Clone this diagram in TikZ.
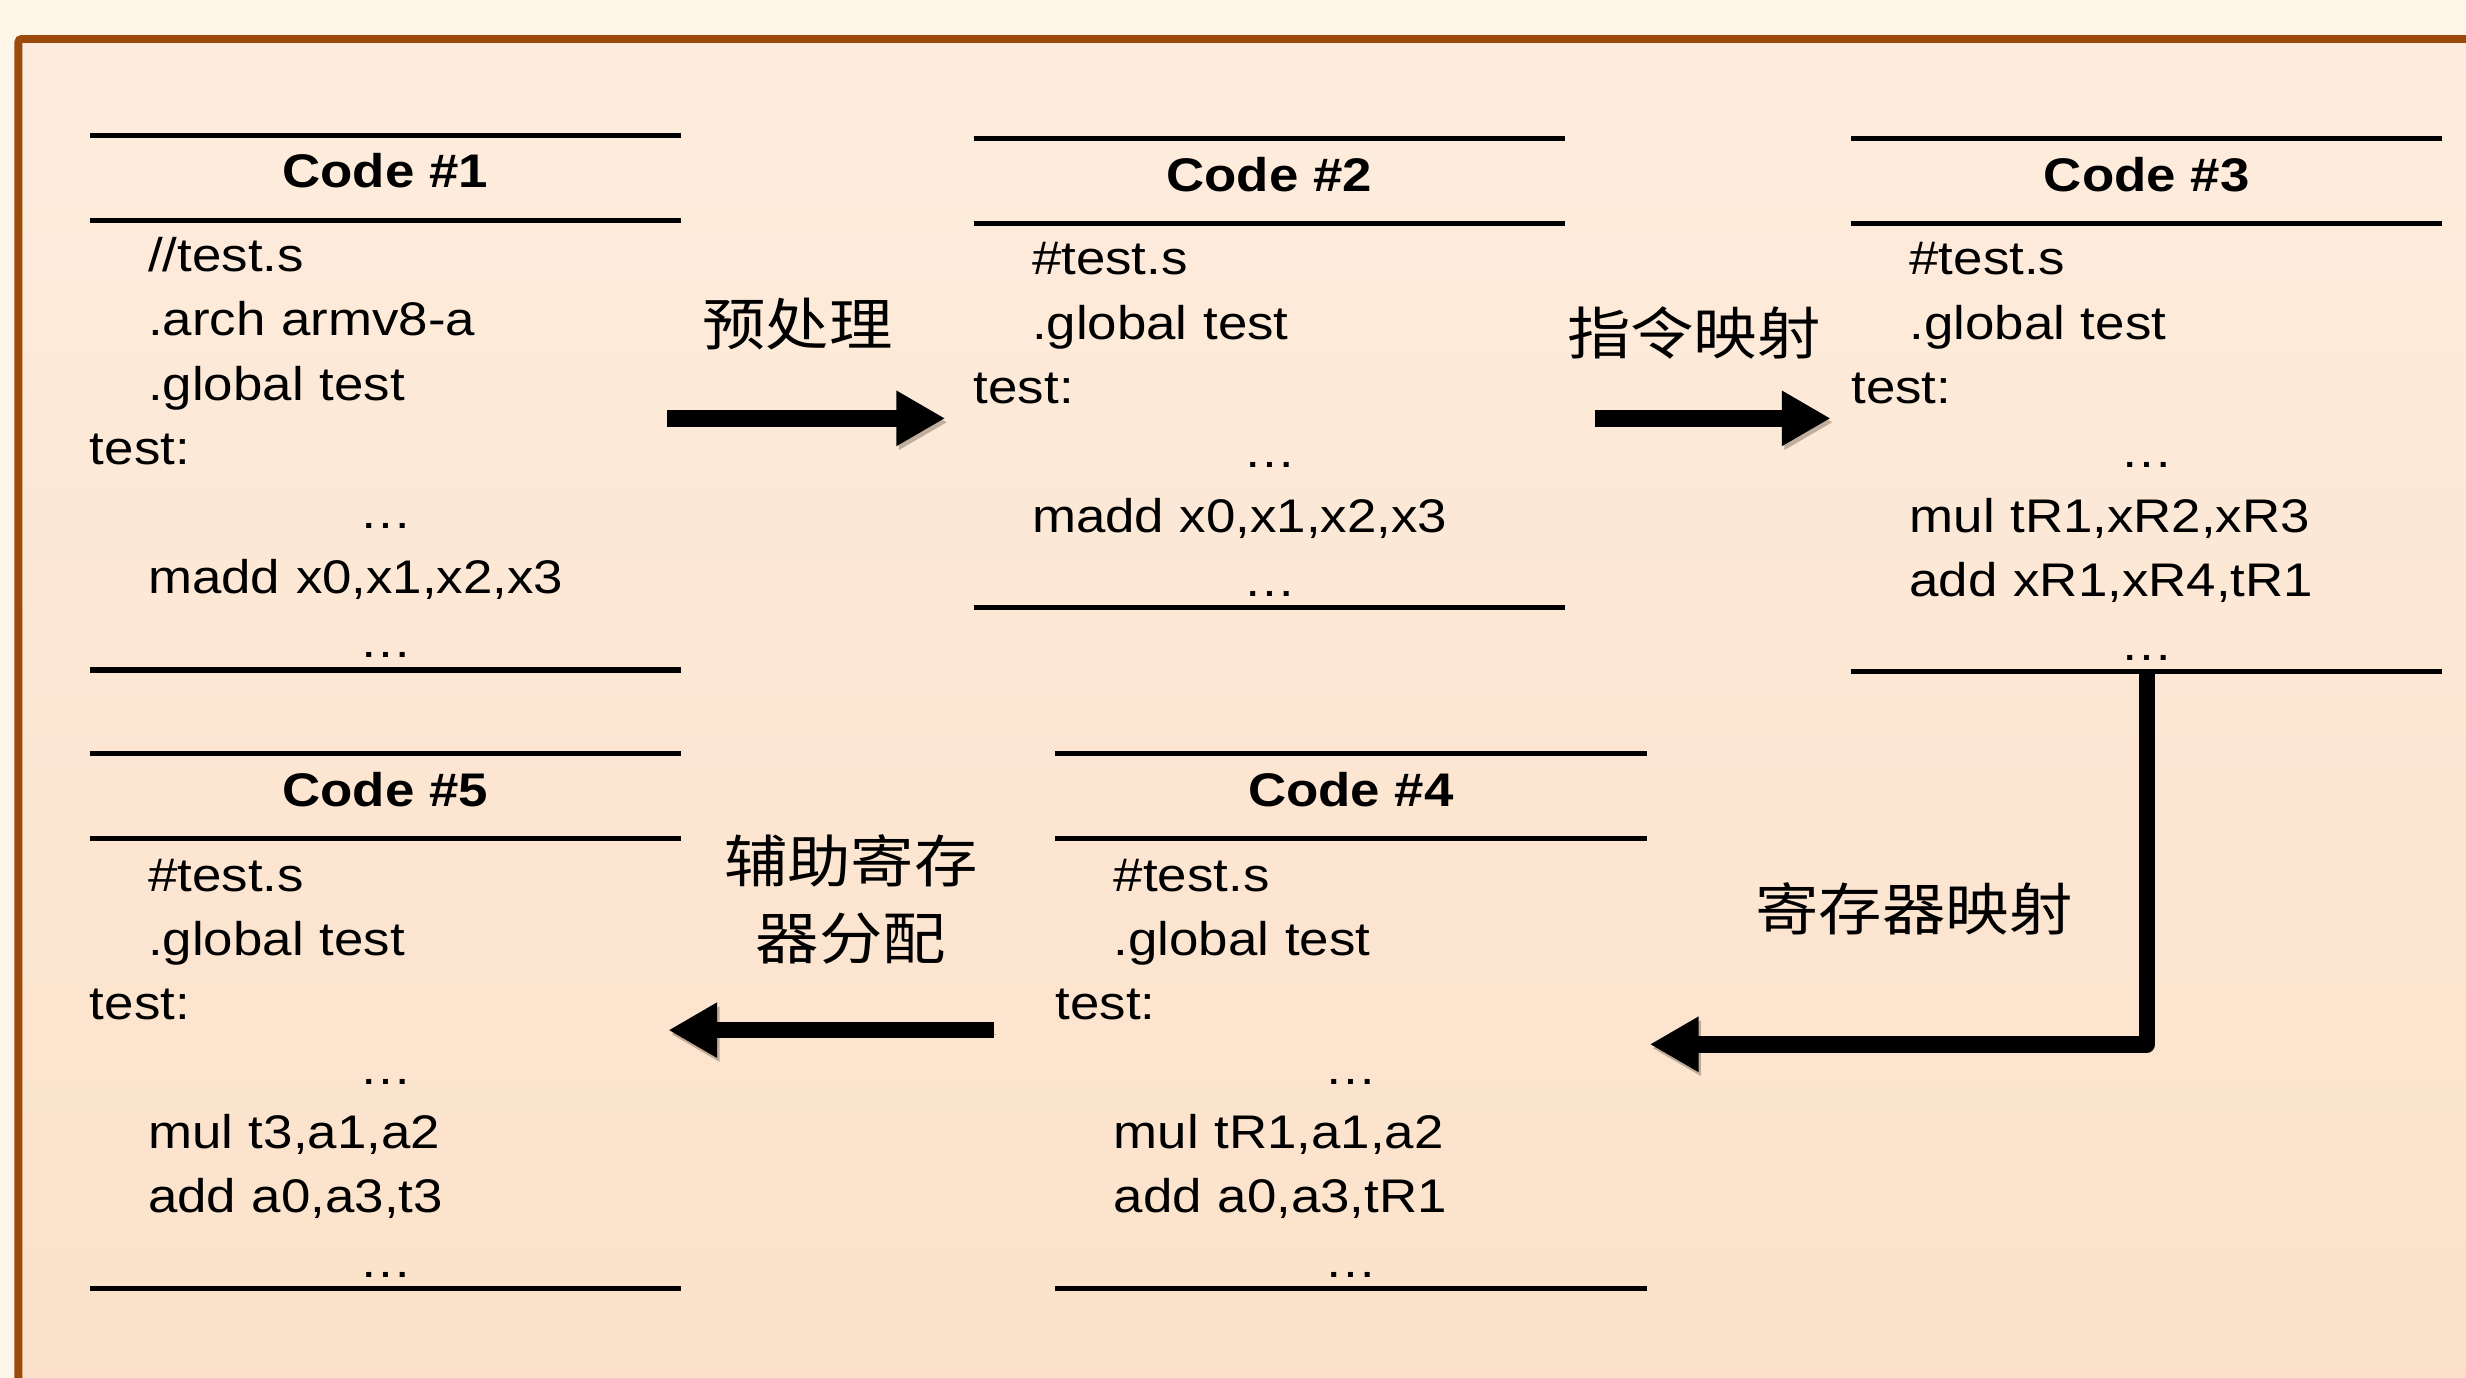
\documentclass[tikz,border=0pt]{standalone}
\usepackage{fontspec}
\setmainfont[FakeStretch=1.12]{Liberation Sans}
\newfontfamily\zhfont[FakeStretch=1.12]{Noto Sans CJK SC}
\usetikzlibrary{arrows.meta}

\definecolor{paper}{RGB}{254,245,233}
\definecolor{peachtop}{RGB}{253,236,221}
\definecolor{peachbot}{RGB}{251,225,201}
\definecolor{rim}{RGB}{155,74,12}

\newcommand\ind{\hspace*{37pt}}
\newcommand\elide{\makebox[\hsize]{…}}

\begin{document}
\begin{tikzpicture}[x=1pt, y=-1pt,
	rule/.style  = {line width=3.2pt},
	title/.style = {font=\fontsize{30}{40.9}\selectfont\bfseries, anchor=base, inner sep=0pt},
	code/.style  = {font=\fontsize{30}{40.9}\selectfont, text width=376pt, align=left,
		anchor=base west, inner sep=0pt},
	phase/.style = {font=\zhfont\fontsize{36}{49}\selectfont, align=center, inner sep=0pt},
	flow/.style  = {line width=10.5pt, line join=round, -{Triangle[length=31pt, width=33pt]},
		preaction={draw=black!80!brown, opacity=.28, transform canvas={shift={(1.5pt,-2.5pt)}}}}]
	
	% slide background and frame
	\useasboundingbox (0,0) rectangle (1568,876);
	\fill[paper] (0,0) rectangle (1568,876);
	\begin{scope}
		\clip (0,0) rectangle (1568,876);
		\draw[rim, line width=5pt, rounded corners=2pt, top color=peachtop, bottom color=peachbot]
			(11.7,24.8) rectangle (1600,910);
	\end{scope}
	
	% table rules: top, below title, bottom
	\foreach \x/\y/\b in {57/86/426, 619/88/386, 1177/88/427, 57/479/819, 671/479/819}
		\draw[rule] (\x,\y) -- +(376,0) (\x,\y+54) -- +(376,0) (\x,\b) -- +(376,0);
	
	% titles
	\node[title] (t1) at (245,119.5)  {Code \#1};
	\node[title] (t2) at (807,121.5)  {Code \#2};
	\node[title] (t3) at (1365,121.5) {Code \#3};
	\node[title] (t4) at (859,512.5)  {Code \#4};
	\node[title] (t5) at (245,512.5)  {Code \#5};
	
	% code listings
	\node[code] (c1) at (57,172.7) {\ind//test.s\\ \ind.arch armv8-a\\ \ind.global test\\ test:\\
		\elide\\ \ind madd x0,x1,x2,x3\\ \elide};
	\node[code] (c2) at (619,174.7) {\ind\#test.s\\ \ind.global test\\ test:\\
		\elide\\ \ind madd x0,x1,x2,x3\\ \elide};
	\node[code] (c3) at (1177,174.7) {\ind\#test.s\\ \ind.global test\\ test:\\
		\elide\\ \ind mul tR1,xR2,xR3\\ \ind add xR1,xR4,tR1\\ \elide};
	\node[code] (c4) at (671,566.7) {\ind\#test.s\\ \ind.global test\\ test:\\
		\elide\\ \ind mul tR1,a1,a2\\ \ind add a0,a3,tR1\\ \elide};
	\node[code] (c5) at (57,566.7) {\ind\#test.s\\ \ind.global test\\ test:\\
		\elide\\ \ind mul t3,a1,a2\\ \ind add a0,a3,t3\\ \elide};
	
	% compilation passes
	\node[phase] (pre)    at (507,206)  {预处理};
	\node[phase] (imap)   at (1077,212) {指令映射};
	\node[phase] (rmap)   at (1217,578) {寄存器映射};
	\node[phase] (ralloc) at (541,572)  {辅助寄存\\器分配};
	
	% arrow ends
	\coordinate (o1) at (424,266);
	\coordinate (i2) at (601,266);
	\coordinate (o2) at (1014,266);
	\coordinate (i3) at (1164,266);
	\coordinate (o3) at (1365,428);
	\coordinate (i4) at (1049,664);
	\coordinate (o4) at (632,655);
	\coordinate (i5) at (425,655);
	
	\draw[flow] (o1) -- (i2);
	\draw[flow] (o2) -- (i3);
	\draw[flow] (o3) |- (i4);
	\draw[flow] (o4) -- (i5);
\end{tikzpicture}
\end{document}
